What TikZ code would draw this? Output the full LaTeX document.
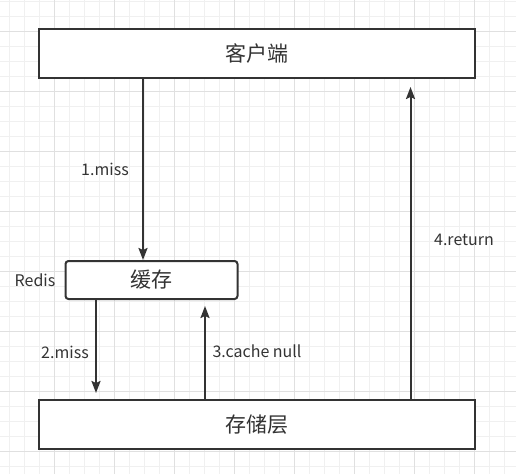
\documentclass[tikz,border=0pt]{standalone}
\usepackage{fontspec}
\setmainfont{Noto Sans CJK SC}
\usepackage{xcolor}
\usetikzlibrary{arrows.meta, positioning}
\definecolor{ink}{HTML}{333333}
\definecolor{gridMinor}{HTML}{F0F0F0}
\definecolor{gridMajor}{HTML}{E0E0E0}
\tikzstyle{layer} = [rectangle, minimum width=436pt, minimum height=49pt, text centered, draw=ink, line width=2pt, fill=white, text=ink, font=\fontsize{21}{25}\selectfont]
\tikzstyle{cacheLayer} = [layer, rounded corners=3pt, minimum width=172pt, minimum height=38pt]
\tikzstyle{arrow} = [line width=2pt, draw=ink, -{Stealth[length=12pt, width=9pt, inset=2pt]}]
\tikzstyle{stepText} = [text=ink, inner sep=0pt, font=\fontsize{16}{19}\selectfont]

\begin{document}
\begin{tikzpicture}[x=1pt, y=-1pt]
                        \useasboundingbox (0,0) rectangle (516,474);
                        % grid
                        \foreach \gx in {9.5,24.5,...,510} \draw[gridMinor, line width=1pt] (\gx,0) -- (\gx,474);
                        \foreach \gy in {1,16,...,474} \draw[gridMinor, line width=1pt] (0,\gy) -- (516,\gy);
                        \foreach \gx in {54.5,114.5,...,510} \draw[gridMajor, line width=1pt] (\gx,0) -- (\gx,474);
                        \foreach \gy in {31,91,...,474} \draw[gridMajor, line width=1pt] (0,\gy) -- (516,\gy);
                        % boxes
                        \node (client) [layer] at (256.5,53.5) {客户端};
                        \node (cache) [cacheLayer] at (151.5,280) {缓存};
                        \node (storage) [layer] at (256.5,424.5) {存储层};
                        \node (redis) [stepText, left=9pt of cache] {Redis};
                        % arrows
                        \coordinate (a1) at (143,0);
                        \coordinate (a2) at (96,0);
                        \coordinate (a3) at (205,0);
                        \coordinate (a4) at (410.5,0);
                        \draw[arrow] (a1 |- client.south) -- (a1 |- cache.north);
                        \draw[arrow, shorten >=6pt] (a2 |- cache.south) -- (a2 |- storage.north);
                        \draw[arrow, shorten >=6pt] (a3 |- storage.north) -- (a3 |- cache.south);
                        \draw[arrow, shorten >=8pt] (a4 |- storage.north) -- (a4 |- client.south);
                        % step labels
                        \node (miss1) [stepText] at (105,169) {1.miss};
                        \node (miss2) [stepText] at (65,352) {2.miss};
                        \node (null3) [stepText] at (257,351) {3.cache null};
                        \node (return4) [stepText] at (464,240) {4.return};
                    \end{tikzpicture}
\end{document}
